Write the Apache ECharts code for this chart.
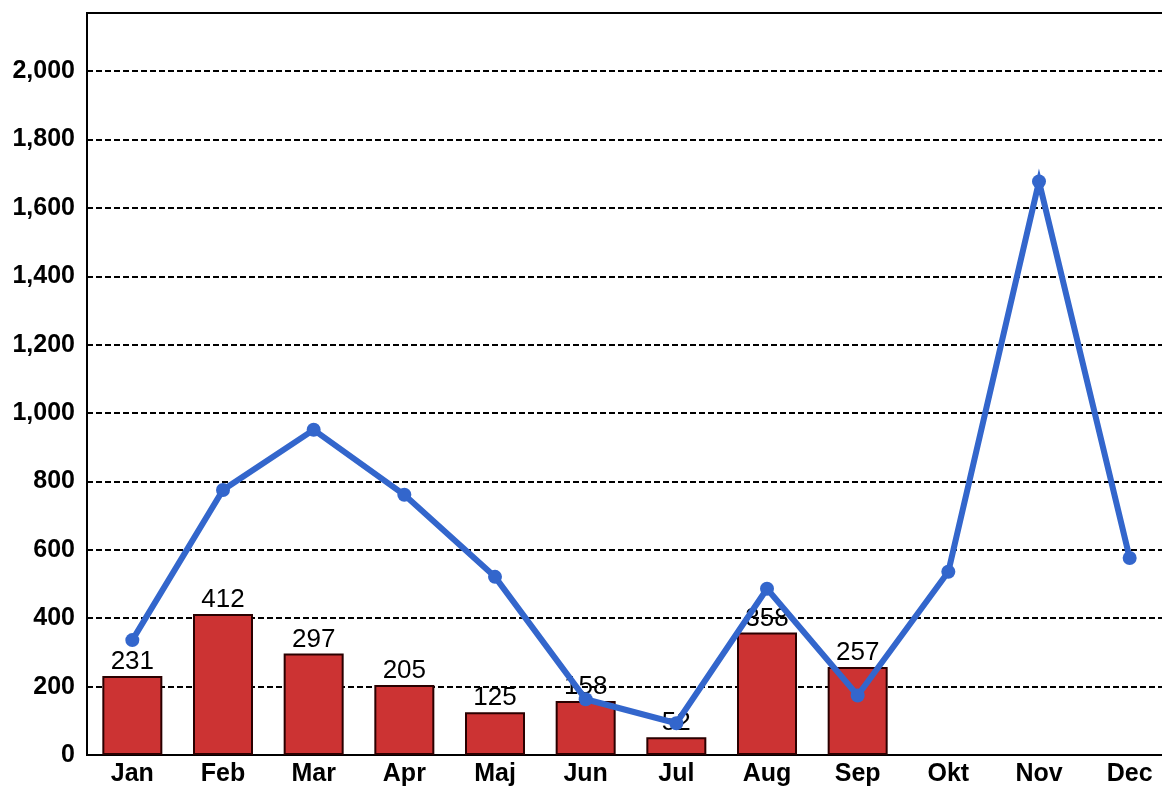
<!DOCTYPE html>
<html><head><meta charset="utf-8">
<script src="https://cdn.jsdelivr.net/npm/echarts@6/dist/echarts.min.js"></script>
<style>html,body{margin:0;padding:0;background:#fff}#c{width:1162px;height:787px}</style>
</head><body><div id="c"></div>
<script>
const categories = ['Jan','Feb','Mar','Apr','Maj','Jun','Jul','Aug','Sep','Okt','Nov','Dec'];
const barValues = [231, 412, 297, 205, 125, 158, 52, 358, 257, null, null, null];
const lineValues = [336, 775, 951, 761, 521, 163, 93, 486, 174, 536, 1677, 576];
const yTicks = [0, 200, 400, 600, 800, 1000, 1200, 1400, 1600, 1800, 2000];

const chart = echarts.init(document.getElementById('c'));
chart.setOption({
  animation: false,
  textStyle: { fontFamily: 'Liberation Sans, Arial, sans-serif' },
  grid: { left: 87, top: 13, width: 1088, height: 742, show: true, borderColor: '#000', borderWidth: 2,
    backgroundColor: 'transparent', containLabel: false, outerBoundsMode: 'none' },
  xAxis: {
    type: 'category', data: categories,
    axisLine: { show: true, lineStyle: { color: '#000', width: 2 } },
    axisTick: { show: false },
    axisLabel: { color: '#000', fontWeight: 'bold', fontSize: 25, margin: 7 }
  },
  yAxis: {
    type: 'value', min: 0, max: 2170, interval: 200,
    axisLine: { show: true, lineStyle: { color: '#000', width: 2 } },
    axisTick: { show: false },
    axisLabel: { color: '#000', fontWeight: 'bold', fontSize: 25, margin: 12,
      formatter: v => yTicks.includes(v) ? v.toLocaleString('en-US') : '' },
    splitLine: { show: true, lineStyle: { color: '#000', type: [6, 3], width: 1.8 } }
  },
  series: [
    {
      type: 'bar', data: barValues, barWidth: 60,
      itemStyle: { color: '#CC3333', borderColor: '#2a0000', borderWidth: 2 },
      label: { show: true, position: 'top', distance: 1, color: '#000', fontSize: 26 },
      z: 2
    },
    {
      type: 'line', data: lineValues,
      symbol: 'circle', symbolSize: 14,
      lineStyle: { color: '#3366CC', width: 6, join: 'miter' },
      itemStyle: { color: '#3366CC' },
      z: 3
    }
  ]
});
</script></body></html>
